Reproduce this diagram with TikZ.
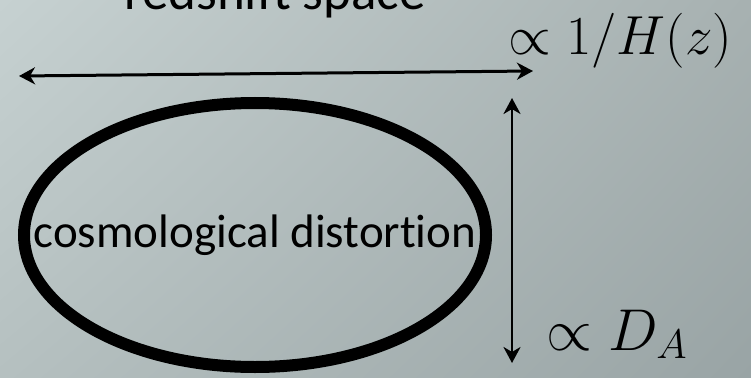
\documentclass[tikz,border=0pt]{standalone}
\usepackage{fix-cm}
\usepackage{amsmath}
\usepackage{fontspec}
\newfontfamily\gillfont[Ligatures=NoCommon]{Carlito}
\usetikzlibrary{arrows,arrows.meta,calc,shadings}
\usetikzlibrary{positioning}
\definecolor{bgtl}{RGB}{198,209,209}
\definecolor{bgtr}{RGB}{167,177,177}
\definecolor{bgbl}{RGB}{181,192,192}
\definecolor{bgbr}{RGB}{153,164,165}
\tikzstyle{sizearrow}=[{Stealth[length=16pt,width=17pt,inset=5pt]}-{Stealth[length=16pt,width=17pt,inset=5pt]}, line width=3]
\tikzstyle{ovalline}=[line width=12]
\tikzstyle{textlabel}=[inner sep=0, font=\gillfont\fontsize{47}{50}\selectfont]
\tikzstyle{mathlabel}=[inner sep=0, anchor=base west]

\begin{document}
\begin{tikzpicture}[x=1pt, y=-1pt]
    \clip (0,0) rectangle (751,377) ;
    \shade[upper left=bgtl, upper right=bgtr, lower left=bgbl, lower right=bgbr] (0,0) rectangle (751,377) ;
    % title, cut at the top edge
    \node[textlabel, anchor=base, font=\gillfont\fontsize{53}{56}\selectfont] (title) at (275,10) {redshift space} ;
    % the two scales
    \coordinate (hleft) at (19,76) ;
    \coordinate (hright) at (533,71) ;
    \coordinate (vtop) at (512,98) ;
    \coordinate (vbot) at (512,363) ;
    \draw[sizearrow] (hleft) -- (hright) ;
    \draw[sizearrow, line width=2.7] (vtop) -- (vbot) ;
    \node[mathlabel, font=\fontsize{55}{60}\selectfont] (hz) at (508,55) {$\propto 1/H(z)$} ;
    \node[mathlabel, font=\fontsize{59}{63}\selectfont] (da) at (546,350) {$\propto D_A$} ;
    % the distorted shape
    \coordinate (ovalc) at (255,235) ;
    \draw[ovalline] (ovalc) ellipse [x radius=231pt, y radius=132pt] ;
    \node[textlabel] (distort) at (ovalc) {cosmological distortion} ;
\end{tikzpicture}
\end{document}
